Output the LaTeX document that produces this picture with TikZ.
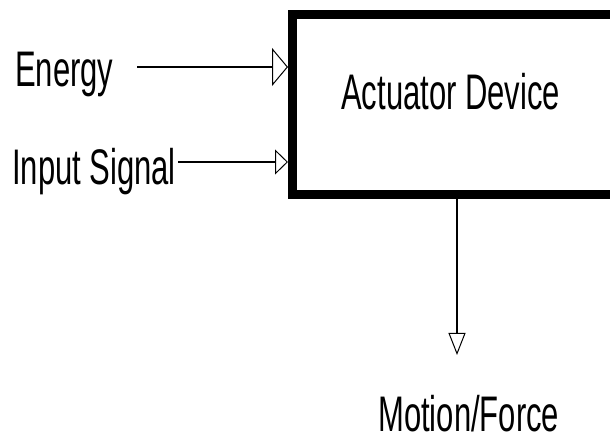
\documentclass[tikz,border=0pt]{standalone}
\usepackage{fontspec}
\setmainfont{Liberation Sans}
\usetikzlibrary{arrows.meta}
\newcommand\narrowtext[1]{\scalebox{0.62}[1]{#1}}
\tikzset{
  lbl/.style={inner sep=0pt, anchor=base west, text=black, font=\fontsize{50}{60}\selectfont},
  devbox/.style={draw=black, line width=9pt, fill=white, inner sep=0pt, minimum width=322.5pt, minimum height=180.5pt},
  conn/.style={line width=1.5pt, draw=black},
}
\begin{document}
\begin{tikzpicture}[x=1pt, y=-1pt]
\useasboundingbox (0,0) rectangle (610,443);
\clip (0,0) rectangle (610,443);
\fill[white] (0,0) rectangle (610,443);
\node[devbox] (box) at (453.75,104.75) {};
\node[lbl] (dev) at (341,110) {\narrowtext{Actuator Device}};
\node[lbl] (en) at (15,87) {\narrowtext{Energy}};
\node[lbl] (is) at (12,185) {\narrowtext{Input Signal}};
\node[lbl] (mf) at (378,431) {\narrowtext{Motion/Force}};
\coordinate (e0) at (137,67);
\coordinate (i0) at (178,162);
\coordinate (m1) at (457,355);
\draw[conn, -{Triangle[open, length=16pt, width=38pt, line width=1pt]}] (e0) -- (e0 -| box.west);
\draw[conn, -{Triangle[open, length=13pt, width=25pt, line width=1pt]}] (i0) -- (i0 -| box.west);
\draw[conn, -{Triangle[open, length=22pt, width=17pt, line width=1pt]}] (m1 |- box.south) -- (m1);
\end{tikzpicture}
\end{document}
